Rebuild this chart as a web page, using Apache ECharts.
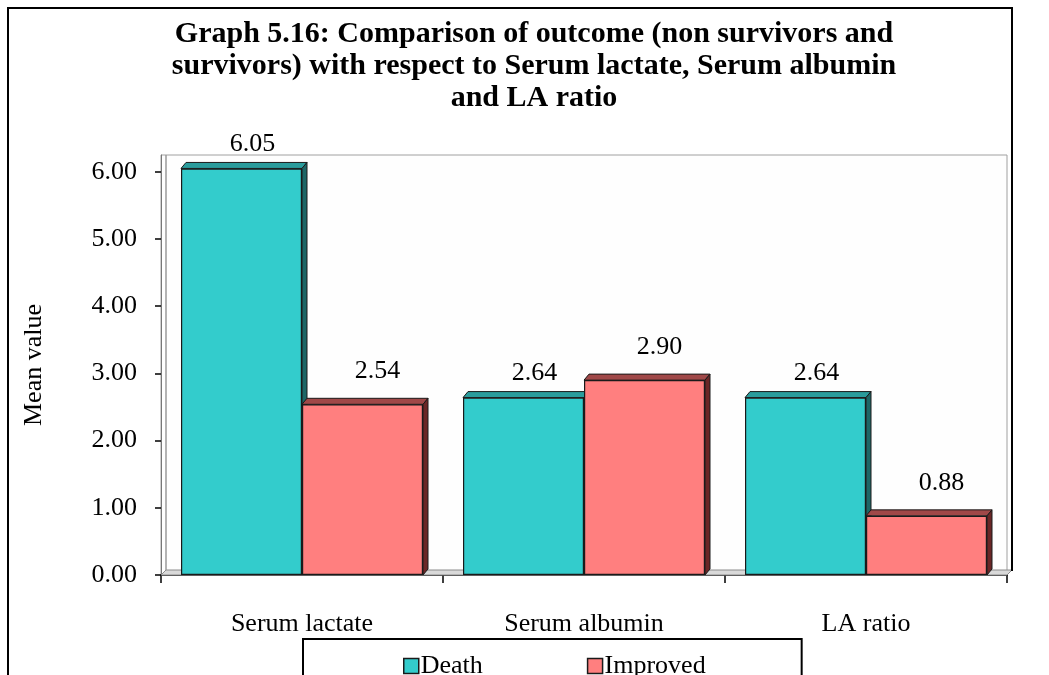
<!DOCTYPE html>
<html>
<head>
<meta charset="utf-8">
<script src="https://cdn.jsdelivr.net/npm/echarts@6/dist/echarts.min.js"></script>
<style>
  html, body { margin: 0; padding: 0; background: #fff; }
  #chart { width: 1049px; height: 675px; }
</style>
</head>
<body>
<div id="chart"></div>
<script>
// Mean values per parameter, split by outcome
const categories = ['Serum lactate', 'Serum albumin', 'LA ratio'];
const deathValues = [6.05, 2.64, 2.64];
const improvedValues = [2.54, 2.90, 0.88];
const yTickValues = [0, 1, 2, 3, 4, 5, 6];

const FONT = 'Liberation Serif, Times New Roman, serif';
const GRID = { left: 161, top: 155, right: 42, bottom: 100 };
const W = 1049, H = 675;
const BAR_W = 121;          // width of each bar
const DEPTH = [5, -6];      // 3-D offset of the top and side faces

const chart = echarts.init(document.getElementById('chart'), null, { renderer: 'canvas' });

// Front faces of the bars, with value labels
function barSeries(name, values, color, labelOffset) {
  return {
    name: name,
    type: 'bar',
    data: values,
    barWidth: BAR_W,
    barGap: '0%',
    itemStyle: { color: color, borderColor: '#1a1a1a', borderWidth: 1.2 },
    label: {
      show: true,
      position: 'top',
      distance: 4,
      offset: labelOffset,
      color: '#000',
      fontFamily: FONT,
      fontSize: 26,
      formatter: function (p) { return p.value.toFixed(2); }
    },
    z: 3
  };
}

// Top and side faces, placed through the axes' own scales
function depthSeries(values, side, topColor, sideColor) {
  return {
    type: 'custom',
    name: 'depth',
    data: values.map(function (v, i) { return [i, v]; }),
    z: 2,
    silent: true,
    renderItem: function (params, api) {
      const top = api.coord([api.value(0), api.value(1)]);
      const base = api.coord([api.value(0), 0]);
      const x0 = side < 0 ? top[0] - BAR_W : top[0];
      const x1 = x0 + BAR_W;
      const dx = DEPTH[0], dy = DEPTH[1];
      const yt = top[1], yb = base[1];
      return {
        type: 'group',
        children: [
          {
            type: 'polygon',
            shape: { points: [[x0, yt], [x0 + dx, yt + dy], [x1 + dx, yt + dy], [x1, yt]] },
            style: { fill: topColor, stroke: '#1a1a1a', lineWidth: 1 }
          },
          {
            type: 'polygon',
            shape: { points: [[x1, yt], [x1 + dx, yt + dy], [x1 + dx, yb + dy], [x1, yb]] },
            style: { fill: sideColor, stroke: '#1a1a1a', lineWidth: 1 }
          }
        ]
      };
    }
  };
}

const option = {
  backgroundColor: '#ffffff',
  animation: false,
  title: {
    text: 'Graph 5.16: Comparison of outcome (non survivors and\nsurvivors) with respect to Serum lactate, Serum albumin\nand LA ratio',
    left: 534,
    top: 18,
    padding: 0,
    textAlign: 'center',
    textStyle: {
      fontFamily: FONT,
      fontWeight: 'bold',
      fontSize: 30,
      lineHeight: 32,
      color: '#000'
    }
  },
  legend: {
    data: ['Death', 'Improved'],
    left: 303,
    top: 639,
    orient: 'horizontal',
    padding: [14, 96, 40, 100],
    borderColor: '#000',
    borderWidth: 2,
    itemWidth: 15,
    itemHeight: 15,
    itemGap: 104,
    icon: 'rect',
    textStyle: { fontFamily: FONT, fontSize: 26, color: '#000', padding: [0, 0, 0, -3] },
    itemStyle: { borderColor: '#1a1a1a', borderWidth: 1.5 }
  },
  grid: {
    left: GRID.left,
    top: GRID.top,
    right: GRID.right,
    bottom: GRID.bottom,
    show: true,
    backgroundColor: '#fefefe',
    borderColor: '#a0a0a0',
    borderWidth: 1
  },
  xAxis: {
    type: 'category',
    data: categories,
    axisLine: { show: true, lineStyle: { color: '#000', width: 1.5 } },
    axisTick: { show: true, length: 8, lineStyle: { color: '#000', width: 1.5 } },
    axisLabel: { margin: 36, fontFamily: FONT, fontSize: 26, color: '#000' }
  },
  yAxis: {
    type: 'value',
    min: 0,
    max: 6.25,
    interval: 1,
    name: 'Mean value',
    nameLocation: 'middle',
    nameGap: 114,
    nameTextStyle: { fontFamily: FONT, fontSize: 26, color: '#000' },
    axisLine: { show: true, lineStyle: { color: '#777', width: 1 } },
    axisTick: { show: true, length: 6, customValues: yTickValues, lineStyle: { color: '#000', width: 1.5 } },
    axisLabel: {
      margin: 24,
      customValues: yTickValues,
      fontFamily: FONT,
      fontSize: 26,
      color: '#000',
      formatter: function (v) { return v.toFixed(2); }
    },
    splitLine: { show: false }
  },
  series: [
    depthSeries(deathValues, -1, '#2a9c9c', '#1d6666'),
    depthSeries(improvedValues, 1, '#a04848', '#6a2626'),
    barSeries('Death', deathValues, '#33CCCC', [11, -7]),
    barSeries('Improved', improvedValues, '#FF7F7F', [15, -16])
  ]
};

chart.setOption(option);

// Frame, side wall and floor of the plot box
const gl = GRID.left, gt = GRID.top, gr = W - GRID.right, gb = H - GRID.bottom;
chart.setOption({
  graphic: [
    {
      type: 'polygon', z: 1, silent: true,
      shape: { points: [[gl, gb], [gl + 5, gb - 5], [gr + 5, gb - 5], [gr, gb]] },
      style: { fill: '#d9d9d9', stroke: '#8c8c8c', lineWidth: 1 }
    },
    {
      type: 'line', z: 1, silent: true,
      shape: { x1: gl + 5, y1: gt, x2: gl + 5, y2: gb - 5 },
      style: { stroke: '#9a9a9a', lineWidth: 1.5 }
    },
    {
      type: 'polyline', z: 10, silent: true,
      shape: { points: [[8, H + 5], [8, 8], [gr + 5, 8], [gr + 5, gb - 4]] },
      style: { stroke: '#000', lineWidth: 2, fill: null }
    }
  ]
});
</script>
</body>
</html>
